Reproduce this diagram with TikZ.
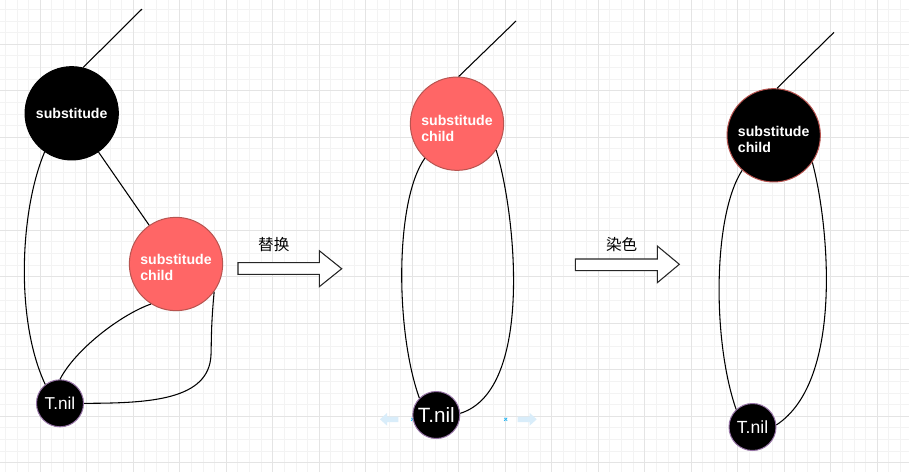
\documentclass[tikz,border=0pt]{standalone}
\usepackage{fontspec}
\setmainfont{Liberation Sans}
\newfontfamily\cjk{Noto Sans CJK SC}
\definecolor{redfill}{HTML}{FF6666}
\definecolor{redborder}{HTML}{B85450}
\definecolor{nilborder}{HTML}{9673A6}
\definecolor{gridminor}{HTML}{F3F3F3}
\definecolor{gridmajor}{HTML}{E4E4E4}
\definecolor{hoverblue}{HTML}{D9EDFA}
\definecolor{hoverx}{HTML}{29B6F2}
\begin{document}
\begin{tikzpicture}[x=0.75pt,y=-0.75pt,
  bigtext/.style={text=white, align=left, font=\fontsize{10.6}{12}\selectfont\bfseries},
  big/.style={circle, minimum size=70pt, inner sep=0pt, line width=0.75pt},
  nilnode/.style={circle, minimum size=35.25pt, inner sep=0pt, fill=black, draw=nilborder, line width=0.75pt, text=white},
  conn/.style={line width=0.8pt, black},
  blockarrow/.style={draw=black!85, fill=white, line width=0.8pt},
  cjklabel/.style={font=\cjk\fontsize{11.7}{13}\selectfont},
  gminor/.style={draw=gridminor, line width=0.75pt},
  gmajor/.style={draw=gridmajor, line width=0.75pt}]
\useasboundingbox (0,0) rectangle (909,472);
\fill[white] (0,0) rectangle (909,472);
% grid
\foreach \i in {0,...,77}{\pgfmathsetmacro\xx{5.4+11.625*\i}\draw[gminor] (\xx,0) -- (\xx,472);}
\foreach \i in {0,...,40}{\pgfmathsetmacro\yy{9.4+11.625*\i}\draw[gminor] (0,\yy) -- (909,\yy);}
\foreach \i in {0,...,19}{\pgfmathsetmacro\xx{40.275+46.5*\i}\draw[gmajor] (\xx,0) -- (\xx,472);}
\foreach \i in {0,...,9}{\pgfmathsetmacro\yy{44.275+46.5*\i}\draw[gmajor] (0,\yy) -- (909,\yy);}

% hover artifacts (middle)
\fill[hoverblue] (380,419.3) -- (387,413) -- (387,416.5) -- (398.3,416.5) -- (398.3,422) -- (387,422) -- (387,425.6) -- cycle;
\fill[hoverblue] (536.7,419.3) -- (529.7,413) -- (529.7,416.5) -- (517.7,416.5) -- (517.7,422) -- (529.7,422) -- (529.7,425.6) -- cycle;
\draw[hoverx, line width=0.6pt] (411.2,417.8) -- (414.2,420.8) (411.2,420.8) -- (414.2,417.8);
\draw[hoverx, line width=0.6pt] (504.2,417.8) -- (507.2,420.8) (504.2,420.8) -- (507.2,417.8);

% ---------- left graph ----------
\node[big, fill=black, draw=black, label={[bigtext]center:substitude}] (sub) at (71.7,113.3) {};
\node[big, fill=redfill, draw=redborder, label={[bigtext, yshift=-2.4pt]center:substitude\\child}] (child1) at (176,264) {};
\node[nilnode, font=\fontsize{12.9}{14}\selectfont] (nil1) at (60,403.3) {T.nil};
\coordinate (top1) at (142,9);
\draw[conn] (sub.76) -- (top1);
\draw[conn] (sub) -- (child1);
\draw[conn] (sub.-125) .. controls (20,210) and (15,320) .. (nil1.128);
\draw[conn] (child1.-122) .. controls (120,315) and (75,350) .. (nil1.90);
\draw[conn] (child1.-36) .. controls (211,325) and (211.5,340) .. (211,355)
   .. controls (209,400) and (150,403.3) .. (nil1.0);

% ---------- arrow 1 ----------
\path[blockarrow] (238,262.7) -- (319.3,262.7) -- (319.3,250.7) -- (341.7,268.7) -- (319.3,286.7) -- (319.3,274.3) -- (238,274.3) -- cycle;
\node[cjklabel] (lab1) at (273.8,245) {替换};

% ---------- middle graph ----------
\node[big, fill=redfill, draw=redborder, label={[bigtext, yshift=-3.2pt]center:substitude\\child}] (child2) at (457,123.7) {};
\node[nilnode, font=\fontsize{15.5}{17}\selectfont] (nil2) at (436.3,415) {T.nil};
\coordinate (top2) at (516,21);
\draw[conn] (child2.88) -- (top2);
\draw[conn] (child2.-133) .. controls (395,200) and (395,330) .. (nil2.135);
\draw[conn] (child2.-34) .. controls (515,210) and (535,390) .. (nil2.4);

% ---------- arrow 2 ----------
\path[blockarrow] (575.3,259) -- (657.3,259) -- (657.3,246) -- (679.3,264.3) -- (657.3,282.7) -- (657.3,270.7) -- (575.3,270.7) -- cycle;
\node[cjklabel] (lab2) at (621.7,245) {染色};

% ---------- right graph ----------
\node[big, fill=black, draw=redborder, label={[bigtext, yshift=-3.4pt]center:substitude\\child}] (child3) at (773.7,135.3) {};
\node[nilnode, font=\fontsize{13.2}{15}\selectfont] (nil3) at (752.5,427) {T.nil};
\coordinate (top3) at (834,32.3);
\draw[conn] (child3.86) -- (top3);
\draw[conn] (child3.-132) .. controls (713,215) and (712,340) .. (nil3.133);
\draw[conn] (child3.-35) .. controls (828,220) and (845,380) .. (nil3.5);
\end{tikzpicture}
\end{document}
